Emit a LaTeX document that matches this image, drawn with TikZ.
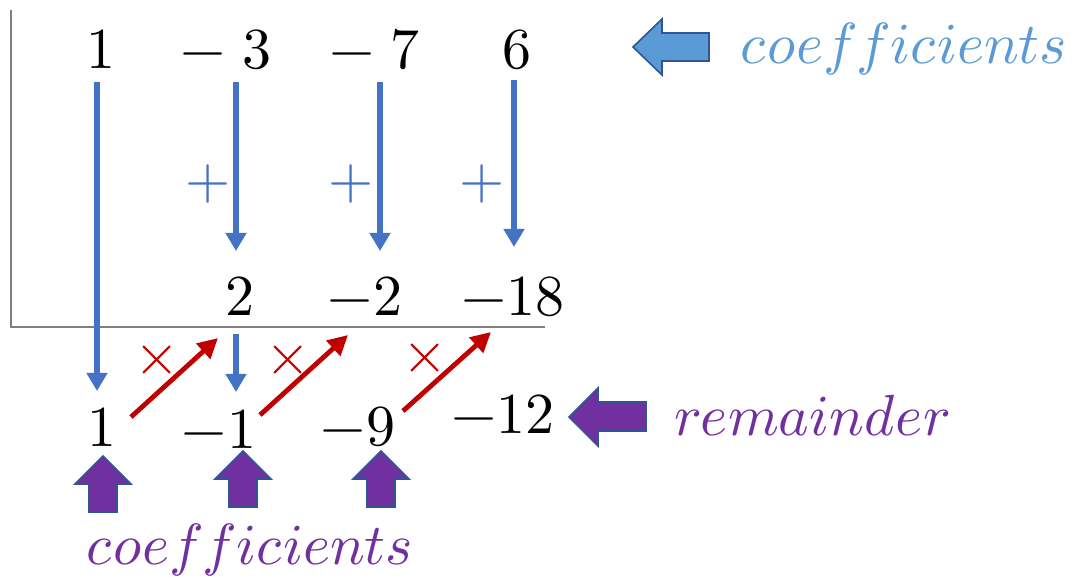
\documentclass[tikz,border=0pt]{standalone}
\usepackage{unicode-math}
\setmathfont{Latin Modern Math}
\usetikzlibrary{arrows.meta}
\definecolor{TermBlue}{HTML}{4472C4}
\definecolor{CoefBlue}{HTML}{5B9BD5}
\definecolor{EdgeBlue}{HTML}{2F5597}
\definecolor{Violet}{HTML}{7030A0}
\definecolor{ProdRed}{HTML}{C00000}
\definecolor{AxisGray}{HTML}{7F7F7F}
\begin{document}
\begin{tikzpicture}[x=0.5pt, y=-0.5pt,
  num/.style={anchor=base, inner sep=0pt, font=\fontsize{29}{35}\selectfont},
  sign/.style={inner sep=0pt, font=\fontsize{29}{35}\selectfont},
  word/.style={anchor=base, inner sep=0pt, font=\fontsize{29}{35}\selectfont},
  down/.style={-{Triangle[width=10pt, length=9pt]}, line width=3.4pt, draw=TermBlue},
  mult/.style={-{Triangle[width=10pt, length=10pt]}, line width=2.4pt, draw=ProdRed},
  block/.style={line width=0.8pt, draw=EdgeBlue},
  axis/.style={line width=0.8pt, draw=AxisGray}]
  \useasboundingbox (0,0) rectangle (1080,584);

  % division bracket
  \draw[axis] (11,10) -- (11,327) -- (545,327);

  % coefficients, products, results
  \node[num] (t1) at (101,68) {$1$};
  \node[num] (t2) at (226,68) {$-\;3$};
  \node[num] (t3) at (375,68) {$-\;7$};
  \node[num] (t4) at (517,68) {$6$};
  \node[num] (m2) at (240,315) {$2$};
  \node[num] (m3) at (365,315) {$-2$};
  \node[num] (m4) at (513,315) {$-18$};
  \node[num] (b1) at (102,446) {$1$};
  \node[num] (b2) at (219,448) {$-1$};
  \node[num] (b3) at (358,445) {$-9$};
  \node[num] (b4) at (503,433) {$-12$};

  % add down each column
  \coordinate (c1) at (97,0);
  \coordinate (c2) at (236,0);
  \coordinate (c3) at (380,0);
  \coordinate (c4) at (514,0);
  \draw[down, shorten <=7pt, shorten >=8pt] (t1.south -| c1) -- (b1.north -| c1);
  \draw[down, shorten <=6pt, shorten >=12.5pt] (t2.south -| c2) -- (m2.north -| c2);
  \draw[down, shorten <=6pt, shorten >=12.5pt] (t3.south -| c3) -- (m3.north -| c3);
  \draw[down, shorten <=5pt, shorten >=14.5pt] (t4.south -| c4) -- (m4.north -| c4);
  \draw[down, shorten <=9.5pt, shorten >=8.5pt] (m2.south -| c2) -- (b2.north -| c2);
  \foreach \n/\x in {2/208, 3/351, 4/482}
    \node[sign, text=TermBlue] (p\n) at (\x,184) {$+$};

  % multiply and carry up
  \foreach \n/\xa/\ya/\xb/\yb/\xc/\yc in {1/131/417/218/338/157/360,
                                        2/260/415/348/335/288/360,
                                        3/403/411/491/332/425/358} {
    \coordinate (ms\n) at (\xa,\ya);
    \coordinate (me\n) at (\xb,\yb);
    \draw[mult] (ms\n) -- (me\n);
    \node[sign, text=ProdRed] (x\n) at (\xc,\yc) {$\times$};
  }

  % block arrows and labels
  \filldraw[block, fill=CoefBlue] (633,47) -- (662,19) -- (662,33) -- (709,33)
    -- (709,61) -- (662,61) -- (662,75) -- cycle;
  \node[word, text=CoefBlue] (topword) at (904,63) {$coefficients$};
  \filldraw[block, fill=Violet] (569,417) -- (598,388) -- (598,402) -- (646,402)
    -- (646,431) -- (598,431) -- (598,446) -- cycle;
  \node[word, text=Violet] (remword) at (812,435) {$remainder$};
  \foreach \x/\y in {103/456, 243/451, 381/451}
    \filldraw[block, fill=Violet] (\x,\y) -- ++(28,28) -- ++(-14,0) -- ++(0,28)
      -- ++(-28,0) -- ++(0,-28) -- ++(-14,0) -- cycle;
  \node[word, text=Violet] (botword) at (250,564) {$coefficients$};
\end{tikzpicture}
\end{document}
